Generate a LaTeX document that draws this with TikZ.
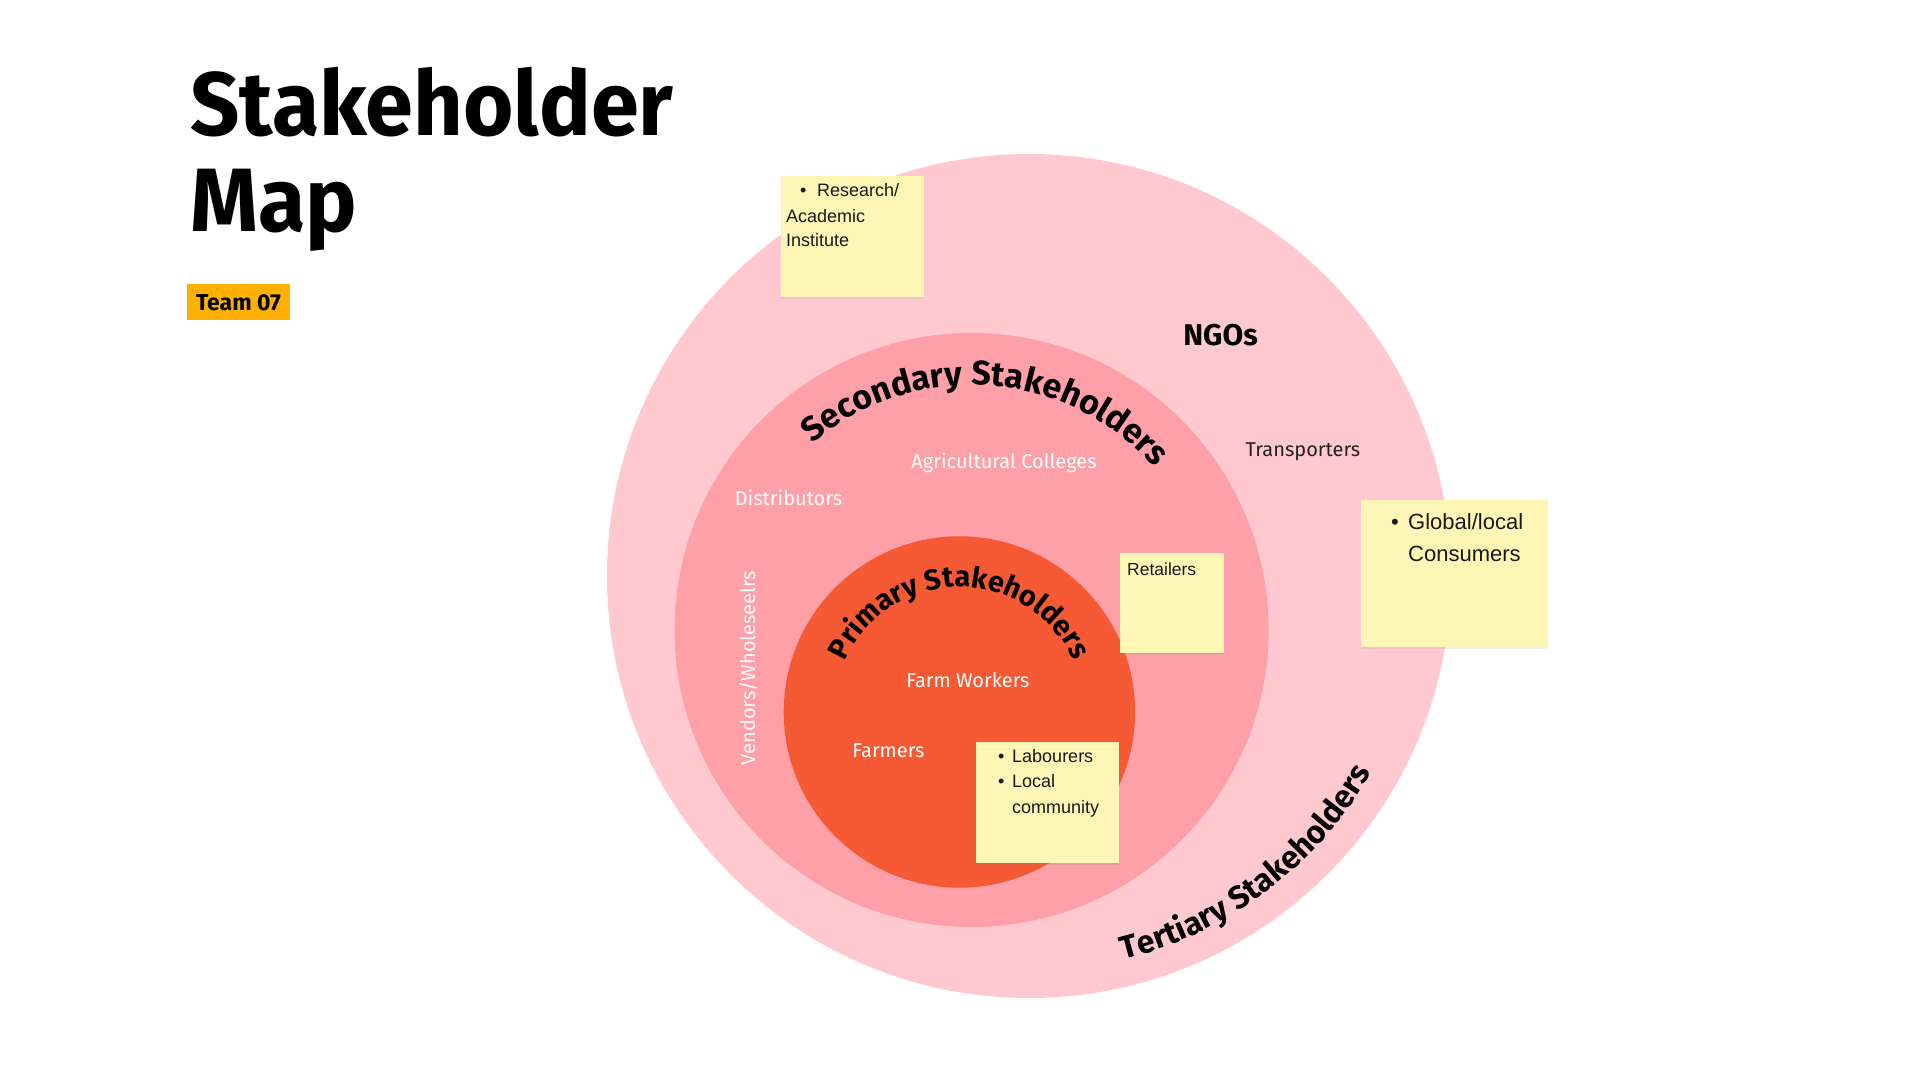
\documentclass[tikz,border=0pt]{standalone}
\usepackage{fontspec}
\setmainfont{Fira Sans}
\newfontfamily\arialf{Liberation Sans}
\usetikzlibrary{decorations.text,shadows}
\definecolor{outerpink}{HTML}{FFC9CF}
\definecolor{midpink}{HTML}{FF9FA8}
\definecolor{innerred}{HTML}{F55A34}
\definecolor{notey}{HTML}{FDF6B4}
\definecolor{teamorange}{HTML}{FFB000}
\definecolor{darktext}{HTML}{222222}
\newcommand{\curveA}{\bfseries\fontsize{34}{34}\selectfont}
\newcommand{\curveB}{\bfseries\fontsize{29}{29}\selectfont}
\newcommand{\curveC}{\bfseries\fontsize{32}{32}\selectfont}
\tikzset{
  ring/.style={circle, inner sep=0pt, draw=none},
  notebox/.style={fill=notey, draw=none, inner sep=0pt, anchor=south west,
    drop shadow={shadow xshift=0pt, shadow yshift=-2.5pt, opacity=0.12}},
  wlabel/.style={text=white, font=\fontsize{20}{24}\selectfont, anchor=base, inner sep=0pt},
  notetext/.style={font=\arialf\fontsize{18}{20}\selectfont, anchor=base west, inner sep=0pt, text=black!90},
  bignotetext/.style={font=\arialf\fontsize{22}{24}\selectfont, anchor=base west, inner sep=0pt, text=black!90},
  titletext/.style={font=\bfseries\fontsize{90}{90}\selectfont, anchor=base west, inner sep=0pt},
}
\begin{document}
\begin{tikzpicture}[x=1pt,y=1pt]
\useasboundingbox (0,0) rectangle (1920,1080);
\fill[white] (0,0) rectangle (1920,1080);

% title
\node[titletext] (t1) at (190,944) {\scalebox{0.96}[1]{Stakeholder}};
\node[titletext] (t2) at (190,848) {\scalebox{0.96}[1]{Map}};
\node[fill=teamorange, minimum width=103pt, minimum height=36pt, inner sep=0pt,
  font=\bfseries\fontsize{23}{23}\selectfont] (team) at (238.5,777.5) {Team 07};

% rings
\node[ring, fill=outerpink, minimum size=844pt] (outer) at (1029,504) {};
\node[ring, fill=midpink, minimum size=594pt] (middle) at (971.6,450) {};
\node[ring, fill=innerred, minimum size=351.4pt] (inner) at (959.4,368) {};

% curved titles
\path[decorate, decoration={text along path, text={|\curveA|Secondary Stakeholders}, text align=center}]
  (971.6,450) ++(132:245) arc[start angle=132, end angle=40, radius=245];
\path[decorate, decoration={text along path, text={|\curveB|Primary Stakeholders}, text align=center}]
  (959.4,368) ++(158:125) arc[start angle=158, end angle=22, radius=125];
\path[decorate, decoration={text along path, text={|\curveC|Tertiary Stakeholders}, text align=center}]
  (1029,504) ++(-78:395) arc[start angle=-78, end angle=-28, radius=395];

% labels
\node[wlabel] (agri) at (1004,611) {Agricultural Colleges};
\node[wlabel] (distr) at (788.5,574) {Distributors};
\node[wlabel] (farmw) at (968,392) {Farm Workers};
\node[wlabel] (farmers) at (888.5,322) {Farmers};
\node[wlabel, rotate=90] (vendors) at (755,412) {Vendors/Wholeseelrs};
\node[wlabel, text=darktext] (transp) at (1303,623) {Transporters};
\node[anchor=base, inner sep=0pt, font=\bfseries\fontsize{30}{30}\selectfont] (ngos) at (1220.5,734) {NGOs};

% sticky notes
\node[notebox, minimum width=143pt, minimum height=121pt] (research) at (781,783) {};
\node[notetext] (r0) at (800,883) {•};
\node[notetext] (r1) at (817,883) {Research/};
\node[notetext] (r2) at (786,857) {Academic};
\node[notetext] (r3) at (786,833) {Institute};

\node[notebox, minimum width=187pt, minimum height=147pt] (global) at (1361,433) {};
\node[bignotetext] (g0) at (1391,550) {•};
\node[bignotetext] (g1) at (1408,550) {Global/local};
\node[bignotetext] (g2) at (1408,518) {Consumers};

\node[notebox, minimum width=143pt, minimum height=121pt] (labour) at (976,217) {};
\node[notetext] (l0) at (998,317) {•};
\node[notetext] (l1) at (1012,317) {Labourers};
\node[notetext] (l2) at (998,292) {•};
\node[notetext] (l3) at (1012,292) {Local};
\node[notetext] (l4) at (1012,266) {community};

\node[notebox, minimum width=104pt, minimum height=100pt] (retail) at (1120,427) {};
\node[notetext, font=\arialf\fontsize{17.5}{20}\selectfont] (rt) at (1127,504) {Retailers};
\end{tikzpicture}
\end{document}
